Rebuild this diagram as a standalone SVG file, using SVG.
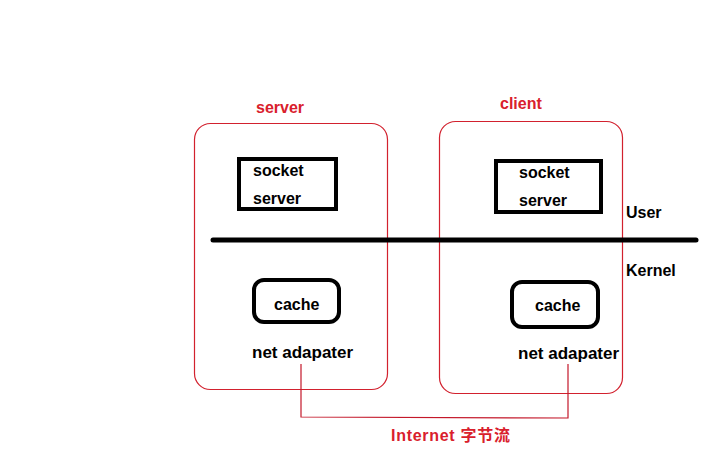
<svg xmlns="http://www.w3.org/2000/svg" width="714" height="463" viewBox="0 0 714 463">
<style>
.frame{fill:none;stroke:#d2212e;stroke-width:1.2}
.box{fill:none;stroke:#000;stroke-width:4}
.t{font-family:"Liberation Sans",Arial,sans-serif;font-weight:bold;font-size:16px;fill:#000}
.n{font-size:17px}
.r{font-family:"Liberation Sans","Noto Sans CJK SC",sans-serif;font-weight:bold;font-size:16px;fill:#d9202c}
.wire{fill:none;stroke:#c4182a;stroke-width:1.2}
</style>
<rect width="714" height="463" fill="#fff"/>
<g id="server">
<rect class="frame" x="194.5" y="123.5" width="193" height="266" rx="16"/>
<text class="r" x="256" y="113">server</text>
</g>
<g id="client">
<rect class="frame" x="439.5" y="121.5" width="183" height="272" rx="16"/>
<text class="r" x="500" y="109">client</text>
</g>
<g id="server-socket">
<rect class="box" x="239" y="159" width="97" height="50"/>
<text class="t" x="253" y="176">socket</text>
<text class="t" x="253" y="204">server</text>
</g>
<g id="client-socket">
<rect class="box" x="496" y="161" width="105" height="51"/>
<text class="t" x="519" y="178">socket</text>
<text class="t" x="519" y="206">server</text>
</g>
<g id="divider">
<line x1="213" y1="240" x2="696" y2="240" stroke="#000" stroke-width="5" stroke-linecap="round"/>
<text class="t" x="626" y="218">User</text>
<text class="t" x="626" y="276">Kernel</text>
</g>
<g id="server-cache">
<rect class="box" x="254" y="280" width="85" height="42" rx="10"/>
<text class="t" x="274" y="310">cache</text>
</g>
<g id="client-cache">
<rect class="box" x="512" y="282" width="86" height="45" rx="10"/>
<text class="t" x="535" y="311">cache</text>
</g>
<g id="server-net">
<text class="t n" x="252" y="358">net adapater</text>
</g>
<g id="client-net">
<text class="t n" x="518" y="359">net adapater</text>
</g>
<g id="connectors">
<polyline class="wire" points="301,364 301,417 568,418 568,364"/>
</g>
<text class="r" x="391" y="441" textLength="119">Internet 字节流</text>
</svg>
